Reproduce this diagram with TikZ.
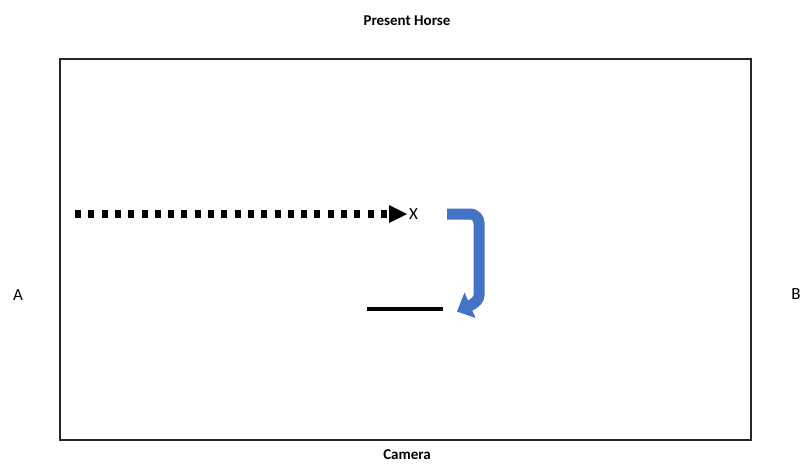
\documentclass[tikz,border=0pt]{standalone}
\usepackage{fontspec}
\setmainfont{Carlito}
\definecolor{arrowblue}{HTML}{4472C4}
\definecolor{framegray}{HTML}{262626}
\begin{document}
\begin{tikzpicture}[x=1pt,y=-1pt,
  lbl/.style={inner sep=0pt,font=\fontsize{15}{15}\selectfont\bfseries},
  side/.style={inner sep=0pt,font=\fontsize{17}{17}\selectfont},
  frame/.style={draw=framegray,line width=2.6pt},
  dotline/.style={line width=8pt,dash pattern=on 6pt off 7.3pt},
  bluearrow/.style={draw=arrowblue,line width=11pt,rounded corners=9pt}]
\useasboundingbox (0,0) rectangle (805,463);
\draw[frame] (60,59) rectangle (751,440);
\node[lbl] (top) at (407,21) {Present Horse};
\node[lbl,anchor=base] (bottom) at (407,459) {Camera};
\node[side] (A) at (18,295) {A};
\node[side] (B) at (796,294) {B};
\node[side,anchor=west] (X) at (409,214) {X};
\coordinate (ds) at (75,214);
\coordinate (de) at (391,214);
\draw[dotline] (ds) -- (de);
\fill (389,205) -- (407,214) -- (389,223) -- cycle;
\coordinate (bs) at (447,214);
\coordinate (bc) at (479,214);
\coordinate (bd) at (479,286);
\coordinate (be) at (469,306);
\draw[bluearrow] (bs) -- (bc) -- (bd) .. controls (479,299) and (476,303) .. (be);
\fill[arrowblue] (464.5,292.5) -- (457,311.5) -- (475.5,318) -- cycle;
\coordinate (ls) at (367,309);
\coordinate (le) at (443,309);
\draw[line width=4pt] (ls) -- (le);
\end{tikzpicture}
\end{document}
